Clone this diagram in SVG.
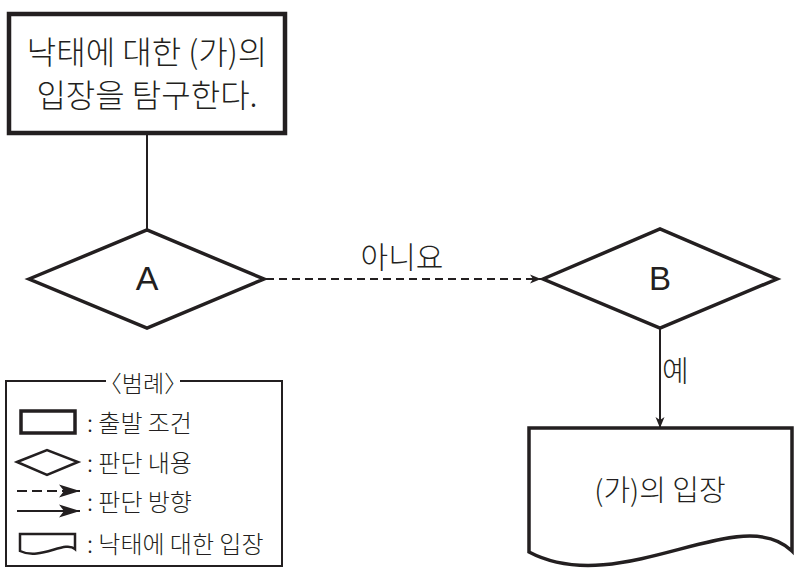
<svg xmlns="http://www.w3.org/2000/svg" width="809" height="577" viewBox="0 0 809 577">
<defs>
<style>
.t{font-family:"Noto Sans CJK KR","Noto Sans",sans-serif;font-weight:300;fill:#231f20}
.l{font-family:"Liberation Sans",Arial,sans-serif;fill:#231f20}
.shape{fill:#fff;stroke:#231f20;stroke-linejoin:miter}
.con{fill:none;stroke:#231f20;stroke-width:2}
</style>
<marker id="ah" markerUnits="userSpaceOnUse" markerWidth="12" markerHeight="10" refX="11" refY="5" orient="auto">
<path d="M0,0.5 L11,5 L0,9.5 L3,5 Z" fill="#231f20"/>
</marker>
<marker id="ahL" markerUnits="userSpaceOnUse" markerWidth="22" markerHeight="14" refX="21" refY="7" orient="auto">
<path d="M0,0.5 L21,7 L0,13.5 L5,7 Z" fill="#231f20"/>
</marker>
</defs>
<rect width="809" height="577" fill="#fff"/>

<g id="connectors">
<line class="con" x1="147" y1="134" x2="147" y2="230"/>
<line class="con" x1="266" y1="279" x2="541" y2="279" stroke-dasharray="8,5" marker-end="url(#ah)"/>
<text class="t" x="402" y="268" font-size="30" text-anchor="middle">아니요</text>
<line class="con" x1="660" y1="328" x2="660" y2="428" marker-end="url(#ah)"/>
<text class="t" x="662" y="382" font-size="29">예</text>
</g>

<g id="start">
<rect class="shape" x="9" y="14" width="276" height="119" stroke-width="4.5"/>
<text class="t" x="147" y="64" font-size="32" text-anchor="middle">낙태에 대한 (가)의</text>
<text class="t" x="147" y="107" font-size="32" text-anchor="middle">입장을 탐구한다.</text>
</g>

<g id="nodeA">
<polygon class="shape" points="29,279 147,230 264,279 147,328" stroke-width="3.5"/>
<text class="l" x="147" y="290" font-size="34" text-anchor="middle">A</text>
</g>

<g id="nodeB">
<polygon class="shape" points="543,279 660,229 777,279 660,328" stroke-width="3.5"/>
<text class="l" x="660" y="290" font-size="33" text-anchor="middle">B</text>
</g>

<g id="result">
<path class="shape" d="M529,428 H792 V551 C740,500 620,600 529,552 Z" stroke-width="3.5"/>
<text class="t" x="660" y="501" font-size="29" text-anchor="middle">(가)의 입장</text>
</g>

<g id="legend">
<path d="M106,381 H6 V566 H282 V381 H180" fill="none" stroke="#231f20" stroke-width="2"/>
<text class="t" x="143" y="392" font-size="23" text-anchor="middle">〈범례〉</text>
<rect class="shape" x="21" y="411" width="54" height="22" stroke-width="3.5"/>
<text class="t" x="87" y="432" font-size="24">: 출발 조건</text>
<polygon class="shape" points="17,462 47,450 78,462 47,475" stroke-width="2.5"/>
<text class="t" x="87" y="472" font-size="24">: 판단 내용</text>
<line class="con" x1="17" y1="491" x2="80" y2="491" stroke-dasharray="10,5" stroke-width="2.5" marker-end="url(#ahL)"/>
<line class="con" x1="17" y1="511" x2="80" y2="511" marker-end="url(#ahL)"/>
<text class="t" x="87" y="511" font-size="24">: 판단 방향</text>
<path class="shape" d="M20,534 H75 V549 C65,540 40,561 20,551 Z" stroke-width="2.5"/>
<text class="t" x="87" y="553" font-size="24">: 낙태에 대한 입장</text>
</g>
</svg>
